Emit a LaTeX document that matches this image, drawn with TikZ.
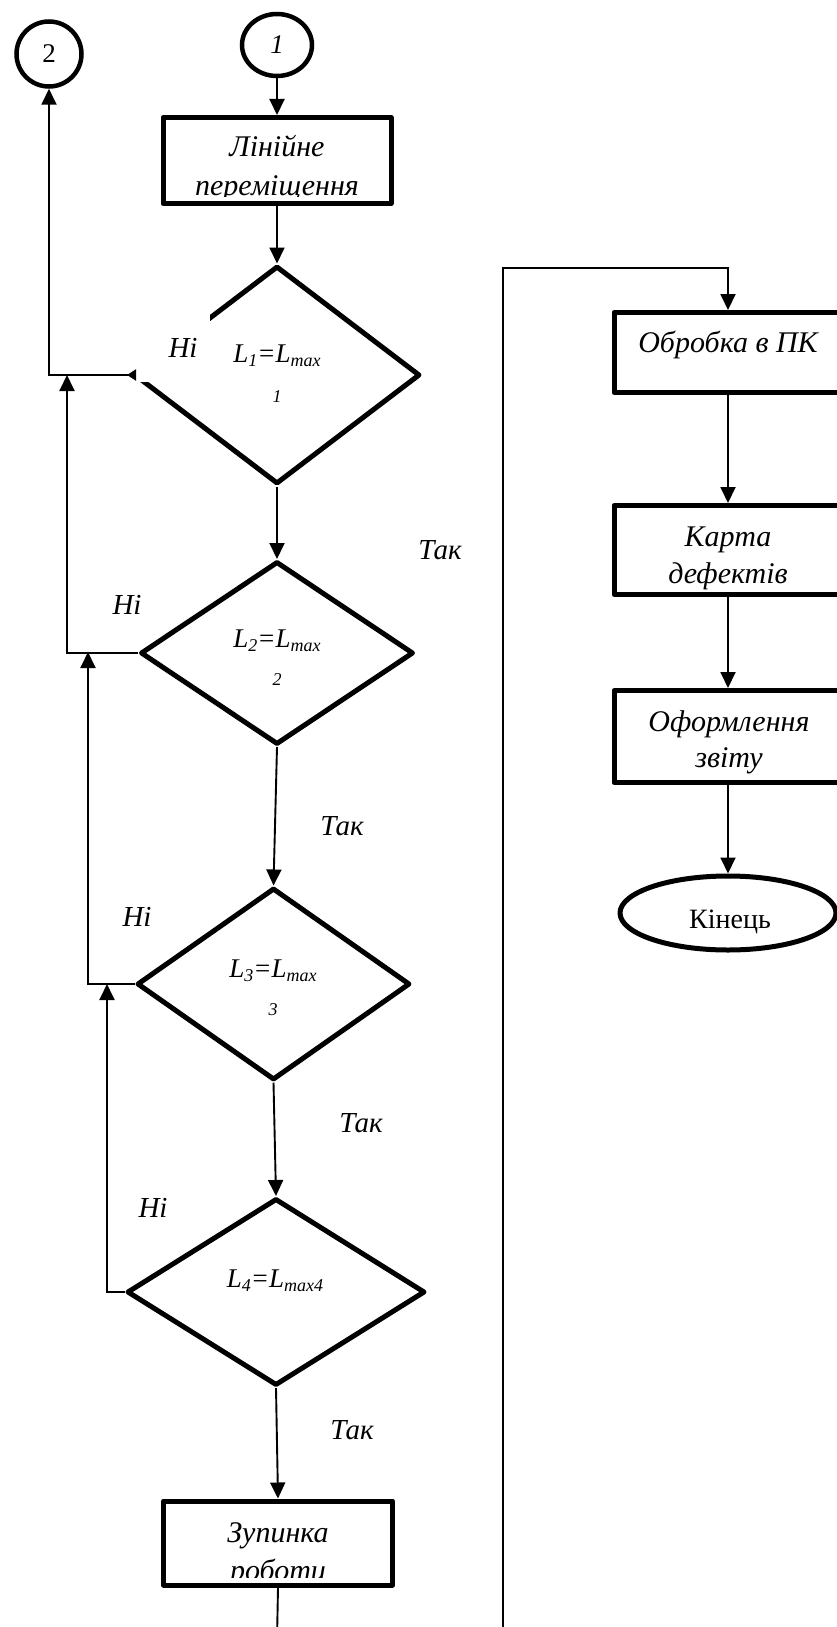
\documentclass[tikz,border=0pt]{standalone}
\usepackage{fontspec}
\setmainfont{Liberation Serif}
\usetikzlibrary{shapes.geometric,arrows.meta,calc}
\newcommand{\mysub}[1]{\raisebox{-0.15em}{\fontsize{18}{18}\selectfont #1}}
\begin{document}
\begin{tikzpicture}[x=1pt,y=-1pt,
  thickline/.style={line width=5pt, line join=round},
  conn/.style={line width=1.9pt},
  arr/.style={conn, -{Triangle[length=16pt,width=15pt]}},
  procbox/.style={draw, thickline, rectangle, minimum width=228pt, inner sep=0pt},
  decision/.style={draw, thickline, diamond, inner sep=0pt},
  conncirc/.style={draw, line width=4.5pt, ellipse, inner sep=0pt, font=\fontsize{27}{30}\selectfont},
  termin/.style={draw, thickline, ellipse, inner sep=0pt},
  boxtext/.style={font=\itshape\fontsize{30}{36}\selectfont, anchor=base, inner sep=0pt},
  lbl/.style={font=\itshape\fontsize{29}{34}\selectfont, inner sep=0pt},
  dtext/.style={font=\itshape\fontsize{27}{30}\selectfont, anchor=base, inner sep=0pt},
  dsub/.style={font=\itshape\fontsize{18}{20}\selectfont, anchor=base, inner sep=0pt},
  endtext/.style={font=\fontsize{28}{32}\selectfont, anchor=base, inner sep=0pt},
]
\useasboundingbox (0,0) rectangle (837,1627);

% connector circles
\node[conncirc, minimum width=70pt, minimum height=62pt] (c1) at (277,45) {\itshape 1};
\node[conncirc, minimum width=65pt, minimum height=65pt] (c2) at (49,54) {2};

% left column boxes
\node[procbox, minimum height=86pt] (b1) at (277,160.5) {};
\begin{scope}
  \clip (150,100) rectangle (400,196);
  \node[boxtext] (b1t1) at (277,157) {Лінійне};
  \node[boxtext] (b1t2) at (277,195) {переміщення};
\end{scope}

\node[decision, minimum width=286pt, minimum height=218pt] (d1) at (277,375) {};
\node[decision, minimum width=273pt, minimum height=183pt] (d2) at (277,653) {};
\node[decision, minimum width=273pt, minimum height=192pt] (d3) at (273.5,984) {};
\node[decision, minimum width=298pt, minimum height=187pt] (d4) at (276,1292) {};

\node[procbox, minimum height=84pt, minimum width=229pt] (b2) at (278,1543) {};
\begin{scope}
  \clip (150,1480) rectangle (400,1577);
  \node[boxtext] (b2t1) at (278,1542) {Зупинка};
  \node[boxtext] (b2t2) at (278,1580) {роботи};
\end{scope}

% diamond texts
\node[dtext] (d1t) at (277,362) {L\mysub{1}=L\mysub{max}};
\node[dsub] (d1s) at (277,402) {1};
\node[dtext] (d2t) at (277,647) {L\mysub{2}=L\mysub{max}};
\node[dsub] (d2s) at (277,685) {2};
\node[dtext] (d3t) at (273,977) {L\mysub{3}=L\mysub{max}};
\node[dsub] (d3s) at (273,1015) {3};
\node[dtext] (d4t) at (275,1287) {L\mysub{4}=L\mysub{max4}};

% "Ні" label of first decision hides part of the diamond edge
\fill[white] (131,313) rectangle (210,382);
\node[lbl] (n1) at (183,348) {Ні};
\node[lbl] (n2) at (127,605) {Ні};
\node[lbl] (n3) at (137,917) {Ні};
\node[lbl] (n4) at (153,1208) {Ні};

\node[lbl] (t1) at (440,550) {Так};
\node[lbl] (t2) at (342,826) {Так};
\node[lbl] (t3) at (361,1123) {Так};
\node[lbl] (t4) at (352,1430) {Так};

% right column
\node[procbox, minimum height=80pt] (ob) at (728,352.5) {};
\node[boxtext] (obt) at (728,352) {Обробка в ПК};
\node[procbox, minimum height=89pt] (kd) at (728,550) {};
\node[boxtext] (kdt1) at (728,546) {Карта};
\node[boxtext] (kdt2) at (728,583) {дефектів};
\node[procbox, minimum height=92pt] (oz) at (728,736.5) {};
\node[boxtext] (ozt1) at (729,731) {Оформлення};
\node[boxtext] (ozt2) at (729,767) {звіту};
\node[termin, minimum width=216pt, minimum height=74pt] (end) at (728,913) {};
\node[endtext] (endt) at (730,928) {Кінець};

% junction coordinates
\coordinate (j0) at (136,375);
\coordinate (j1) at (67,375);
\coordinate (j2) at (88,652);
\coordinate (j3) at (107,984);
\coordinate (zend) at (277,1640);
\coordinate (rb) at (503,1640);
\coordinate (rt) at (503,268);

% main flow
\draw[arr] (c1.south) -- (b1.north);
\draw[arr] (b1.south) -- (d1.north);
\draw[arr] (d1.south) -- (d2.north);
\draw[arr] (d2.south) -- (d3.north);
\draw[arr] (d3.south) -- (d4.north);
\draw[arr] (d4.south) -- (b2.north);
\draw[conn] (b2.south) -- (zend);

% "Ні" loops
\draw[conn, {Triangle[reversed,length=9pt,width=11pt]}-{Triangle[length=16pt,width=15pt]}] (j0) -| (c2.south);
\draw[arr] (d2.west) -| (j1);
\draw[arr] (d3.west) -| (j2);
\draw[arr] (d4.west) -| (j3);

% right column flow
\draw[arr] (rb) -- (rt) -| (ob.north);
\draw[arr] (ob.south) -- (kd.north);
\draw[arr] (kd.south) -- (oz.north);
\draw[arr] (oz.south) -- (end.north);
\end{tikzpicture}
\end{document}
